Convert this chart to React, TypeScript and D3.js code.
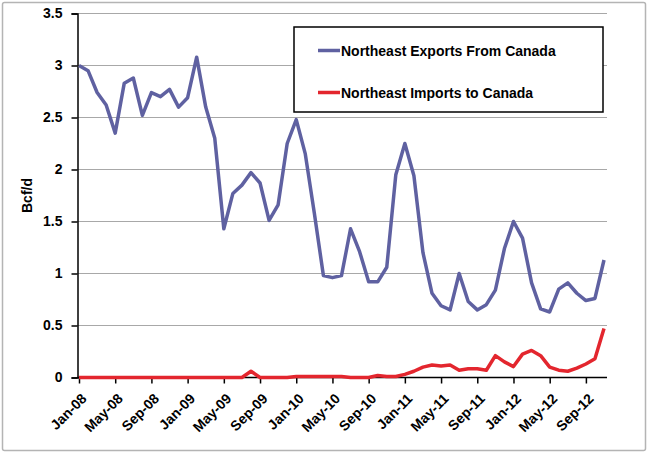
import React, { useEffect, useRef } from "react";
import * as d3 from "d3";

// monthly, Jan-08 .. Nov-12
const months: Date[] = d3.timeMonth.range(new Date(2008, 0, 1), new Date(2012, 11, 1));

const exportsFromCanada = [
  3.0, 2.95, 2.74, 2.62, 2.35, 2.83, 2.88, 2.52, 2.74, 2.7, 2.77, 2.6,
  2.69, 3.08, 2.6, 2.3, 1.43, 1.77, 1.85, 1.97, 1.87, 1.51, 1.66, 2.25,
  2.48, 2.15, 1.58, 0.98, 0.96, 0.98, 1.43, 1.21, 0.92, 0.92, 1.06, 1.95,
  2.25, 1.94, 1.2, 0.81, 0.69, 0.65, 1.0, 0.73, 0.65, 0.7, 0.84, 1.24,
  1.5, 1.34, 0.91, 0.66, 0.63, 0.85, 0.91, 0.81, 0.74, 0.76, 1.13,
];

const importsToCanada = [
  0, 0, 0, 0, 0, 0, 0, 0, 0, 0, 0, 0,
  0, 0, 0, 0, 0, 0, 0, 0.06, 0, 0, 0, 0,
  0.01, 0.01, 0.01, 0.01, 0.01, 0.01, 0, 0, 0, 0.02, 0.01, 0.01,
  0.03, 0.06, 0.1, 0.12, 0.11, 0.12, 0.07, 0.085, 0.085, 0.07, 0.21, 0.15,
  0.105, 0.225, 0.26, 0.21, 0.1, 0.07, 0.06, 0.09, 0.13, 0.18, 0.47,
];

const yTicks = [0, 0.5, 1, 1.5, 2, 2.5, 3, 3.5];

const series = [
  { name: "Northeast Exports From Canada", values: exportsFromCanada, color: "#5f61a1" },
  { name: "Northeast Imports to Canada", values: importsToCanada, color: "#e3262e" },
];

const width = 650;
const height = 454;
const font = "'Liberation Sans', Arial, sans-serif";

const Chart: React.FC = () => {
  const svgRef = useRef<SVGSVGElement>(null);

  useEffect(() => {
    if (!svgRef.current) return;
    const svg = d3.select(svgRef.current);
    svg.selectAll("*").remove();

    const left = 77.5;
    const right = 607;
    const top = 13.5;
    const bottom = 377.5;

    const fmt = d3.timeFormat("%b-%y");
    const labels = months.map((m) => fmt(m));

    const x = d3.scalePoint<string>().domain(labels).range([left + 1.5, right - 3]);
    const y = d3.scaleLinear().domain([0, 3.5]).range([bottom, top]);

    // outer frame
    svg
      .append("rect")
      .attr("x", 2.5)
      .attr("y", 2.5)
      .attr("width", width - 7)
      .attr("height", height - 6)
      .attr("rx", 2)
      .attr("fill", "#fff")
      .attr("stroke", "#b4b4b4")
      .attr("stroke-width", 1.5);

    // gridlines
    svg
      .append("g")
      .selectAll("line")
      .data(yTicks.filter((d) => d > 0))
      .enter()
      .append("line")
      .attr("x1", left)
      .attr("x2", right)
      .attr("y1", (d) => y(d))
      .attr("y2", (d) => y(d))
      .attr("stroke", "#a8a8a8")
      .attr("stroke-width", 1.2);

    // y axis
    const yAxis = svg
      .append("g")
      .attr("transform", `translate(${left},0)`)
      .call(d3.axisLeft(y).tickValues(yTicks).tickSize(6).tickPadding(9).tickFormat((d) => `${d}`));
    yAxis.select(".domain").attr("stroke", "#000").attr("stroke-width", 1.5);
    yAxis.selectAll(".tick line").attr("stroke", "#000").attr("stroke-width", 1.5);
    yAxis
      .selectAll(".tick text")
      .style("font-family", font)
      .style("font-size", "14px")
      .style("font-weight", "bold")
      .attr("fill", "#000");

    // x axis
    const tickLabels = labels.filter((_d, i) => i % 4 === 0);
    const xAxis = svg
      .append("g")
      .attr("transform", `translate(0,${bottom})`)
      .call(d3.axisBottom(x).tickValues(tickLabels).tickSize(6).tickSizeOuter(0));
    xAxis.select(".domain").attr("stroke", "#000").attr("stroke-width", 1.5).attr("d", `M${left},0H${right}`);
    xAxis.selectAll(".tick line").attr("stroke", "#000").attr("stroke-width", 1.5);
    xAxis
      .selectAll(".tick text")
      .attr("x", 0)
      .attr("y", 0)
      .attr("dy", "0")
      .attr("transform", "translate(8,22) rotate(-45)")
      .style("text-anchor", "end")
      .style("font-family", font)
      .style("font-size", "14px")
      .style("font-weight", "bold")
      .attr("fill", "#000");

    // y title
    svg
      .append("text")
      .attr("transform", `translate(32,${(top + bottom) / 2}) rotate(-90)`)
      .attr("text-anchor", "middle")
      .style("font-family", font)
      .style("font-size", "14px")
      .style("font-weight", "bold")
      .text("Bcf/d");

    // lines
    const line = d3
      .line<number>()
      .x((_d, i) => x(labels[i]) as number)
      .y((d) => y(d));

    series.forEach((s) => {
      svg
        .append("path")
        .datum(s.values)
        .attr("fill", "none")
        .attr("stroke", s.color)
        .attr("stroke-width", 3.5)
        .attr("stroke-linejoin", "round")
        .attr("d", line);
    });

    // legend
    const legend = svg.append("g");
    legend
      .append("rect")
      .attr("x", 294)
      .attr("y", 27)
      .attr("width", 309)
      .attr("height", 85)
      .attr("fill", "#fff")
      .attr("stroke", "#000")
      .attr("stroke-width", 1.5);

    series.forEach((s, i) => {
      const ly = 50.5 + i * 42;
      legend
        .append("line")
        .attr("x1", 318)
        .attr("x2", 340)
        .attr("y1", ly)
        .attr("y2", ly)
        .attr("stroke", s.color)
        .attr("stroke-width", 3.5);
      legend
        .append("text")
        .attr("x", 341)
        .attr("y", ly + 5)
        .style("font-family", font)
        .style("font-size", "14px")
        .style("font-weight", "bold")
        .text(s.name);
    });
  }, []);

  return <svg ref={svgRef} width={width} height={height} style={{ display: "block" }} />;
};

export default function App() {
  return (
    <div style={{ position: "absolute", left: 0, top: 0 }}>
      <Chart />
    </div>
  );
}
